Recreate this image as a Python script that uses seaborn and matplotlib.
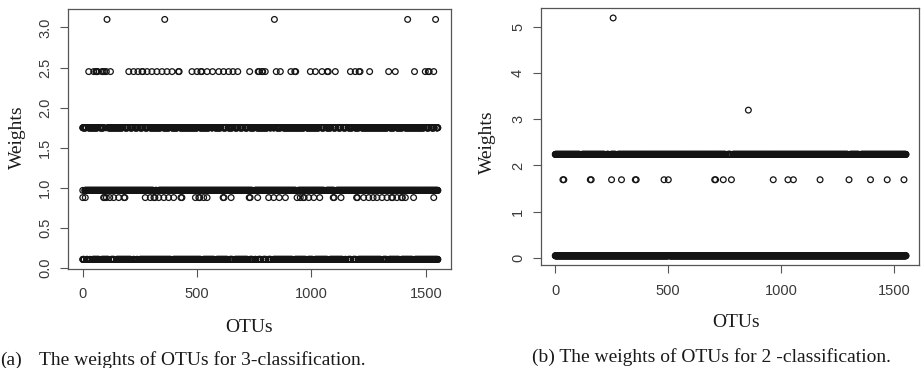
import numpy as np
import pandas as pd
import matplotlib
matplotlib.use("Agg")
import matplotlib.pyplot as plt
import seaborn as sns

# ============== values ==============
# (a) 3-classification: weight levels
a_w_low, a_w_088, a_w_097, a_w_175, a_w_245, a_w_310 = 0.11, 0.88, 0.97, 1.75, 2.45, 3.10

# sparse levels: OTU index of each visible circle
a_otus_310 = [107, 359, 838, 1420, 1542]
a_otus_245 = [27, 49, 58, 61, 63, 66, 85, 90, 96, 104, 122, 202, 223, 242, 260, 263,
              282, 303, 325, 347, 369, 391, 419, 422, 478, 500, 517, 521, 544, 568,
              595, 616, 638, 657, 678, 730, 767, 771, 784, 787, 798, 846, 864, 910,
              927, 931, 995, 1017, 1046, 1069, 1073, 1104, 1170, 1191, 1208, 1212,
              1254, 1337, 1366, 1450, 1497, 1510, 1514, 1534]
a_otus_088 = [1, 12, 92, 96, 104, 119, 136, 158, 181, 185, 274, 296, 312, 316, 333,
              355, 376, 398, 430, 434, 493, 508, 512, 529, 544, 614, 618, 649, 728,
              732, 765, 813, 835, 859, 886, 937, 951, 964, 968, 988, 1010, 1036, 1095,
              1099, 1129, 1197, 1201, 1228, 1250, 1269, 1286, 1308, 1330, 1350, 1354,
              1373, 1393, 1397, 1410, 1446, 1534]

# dense levels: runs of consecutive OTUs (first, last)
a_runs_175 = [(1, 15), (25, 66), (76, 92), (102, 102), (112, 175), (185, 197), (207, 218),
              (228, 240), (250, 262), (272, 284), (294, 342), (352, 379), (389, 415),
              (425, 502), (512, 553), (563, 568), (578, 604), (614, 626), (636, 655),
              (665, 677), (687, 699), (709, 721), (731, 750), (760, 808), (818, 823),
              (833, 837), (847, 866), (876, 968), (978, 1033), (1043, 1055), (1065, 1085),
              (1095, 1106), (1116, 1128), (1138, 1150), (1160, 1179), (1189, 1208),
              (1218, 1332), (1342, 1361), (1371, 1398), (1408, 1492), (1502, 1514),
              (1524, 1536), (1546, 1552)]
a_runs_097 = [(1, 1), (10, 309), (319, 323), (333, 742), (752, 932), (942, 1055),
              (1065, 1099), (1109, 1552)]
a_runs_low = [(1, 7), (17, 22), (32, 34), (44, 73), (83, 114), (124, 138), (148, 211),
              (221, 226), (236, 240), (250, 386), (396, 517), (527, 575), (585, 633),
              (643, 655), (665, 721), (731, 742), (752, 757), (767, 779), (789, 801),
              (811, 823), (833, 917), (927, 975), (985, 1005), (1015, 1070), (1080, 1136),
              (1146, 1150), (1160, 1172), (1182, 1194), (1204, 1303), (1313, 1328),
              (1338, 1383), (1393, 1441), (1451, 1552)]

# (b) 2-classification
b_w_low, b_w_169, b_w_224, b_w_320, b_w_520 = 0.04, 1.69, 2.24, 3.20, 5.20
b_otus_520 = [257]
b_otus_320 = [855]
b_otus_169 = [35, 39, 156, 160, 250, 294, 355, 359, 482, 501, 706, 710, 744, 780, 965,
              1030, 1054, 1172, 1300, 1395, 1469, 1543]
b_runs_224 = [(1, 109), (119, 219), (229, 237), (247, 268), (278, 754), (764, 776),
              (786, 1295), (1305, 1343), (1353, 1552)]
b_runs_low = [(1, 501), (507, 1552)]

a_xticks = [0, 500, 1000, 1500]
a_yticks = [0.0, 0.5, 1.0, 1.5, 2.0, 2.5, 3.0]
b_yticks = [0, 1, 2, 3, 4, 5]


def expand(runs):
    return np.concatenate([np.arange(s, e + 1) for s, e in runs])


def make_frame(sparse, dense):
    parts = [pd.DataFrame({"OTU": o, "Weight": w}) for w, o in sparse]
    parts += [pd.DataFrame({"OTU": expand(r), "Weight": w}) for w, r in dense]
    return pd.concat(parts, ignore_index=True)


df_a = make_frame([(a_w_310, a_otus_310), (a_w_245, a_otus_245), (a_w_088, a_otus_088)],
                  [(a_w_175, a_runs_175), (a_w_097, a_runs_097), (a_w_low, a_runs_low)])
df_b = make_frame([(b_w_520, b_otus_520), (b_w_320, b_otus_320), (b_w_169, b_otus_169)],
                  [(b_w_224, b_runs_224), (b_w_low, b_runs_low)])

sns.set_style("ticks")
plt.rcParams["font.family"] = ["Liberation Sans", "DejaVu Sans"]
serif = ["Liberation Serif", "DejaVu Serif"]
frame_col = "#555555"

fig = plt.figure(figsize=(9.21, 3.68), dpi=100)
ax_a = fig.add_axes([0.0742, 0.2698, 0.4159, 0.7049])
ax_b = fig.add_axes([0.5874, 0.2799, 0.4108, 0.6976])

for ax, df in [(ax_a, df_a), (ax_b, df_b)]:
    sns.scatterplot(data=df, x="OTU", y="Weight", ax=ax, marker="o", s=17,
                    facecolors="none", edgecolor="#141414", linewidth=0.9, legend=False)
    ax.set_xlabel("")
    ax.set_ylabel("")
    for sp in ax.spines.values():
        sp.set_visible(True)
        sp.set_color(frame_col)
        sp.set_linewidth(0.9)
    ax.tick_params(direction="out", length=5.5, width=0.8, color=frame_col,
                   labelsize=10.5, labelcolor="#3a3a3a")
    ax.tick_params(axis="x", pad=8)
    ax.tick_params(axis="y", pad=6)
    ax.set_xlim(-62, 1611)
    ax.set_xticks(a_xticks)

ax_a.set_ylim(-0.006, 3.226)
ax_a.set_yticks(a_yticks)
ax_a.set_yticklabels([f"{v:.1f}" for v in a_yticks], rotation=90, va="center")
ax_b.set_ylim(-0.16, 5.41)
ax_b.set_yticks(b_yticks)
ax_b.set_yticklabels([str(v) for v in b_yticks], rotation=90, va="center")

W, H = 921, 368
lab = dict(family=serif, fontsize=14, color="#1a1a1a")
fig.text(249 / W, 1 - 332 / H, "OTUs", ha="center", va="baseline", **lab)
fig.text(736 / W, 1 - 327 / H, "OTUs", ha="center", va="baseline", **lab)
fig.text(17 / W, 1 - 137 / H, "Weights", ha="center", va="center", rotation=90, **lab)
fig.text(487 / W, 1 - 142 / H, "Weights", ha="center", va="center", rotation=90, **lab)

fig.text(0 / W, 1 - 365 / H, "(a)", ha="left", va="baseline", **lab)
fig.text(39 / W, 1 - 365 / H, "The weights of OTUs for 3-classification.",
         ha="left", va="baseline", **lab)
fig.text(532 / W, 1 - 362 / H, "(b) The weights of OTUs for 2 -classification.",
         ha="left", va="baseline", **lab)

fig.savefig("out.png", dpi=100)
